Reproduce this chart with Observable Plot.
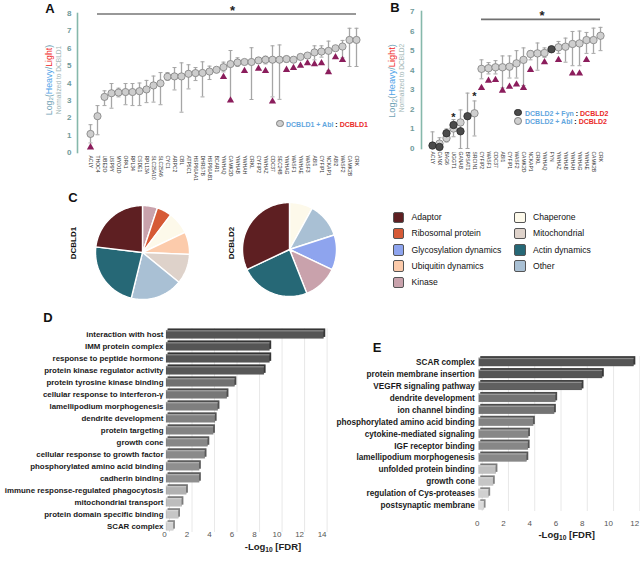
<!DOCTYPE html>
<html><head><meta charset="utf-8">
<script src="https://cdn.jsdelivr.net/npm/d3@7"></script>
<script src="https://cdn.jsdelivr.net/npm/@observablehq/plot@0.6"></script>
<style>
body{margin:0;background:#fff;font-family:"Liberation Sans",Arial,Helvetica,sans-serif;}
#root{position:relative;width:640px;height:561px;overflow:hidden;background:#fff;}
.abs{position:absolute;white-space:nowrap;line-height:1;}
sub{font-size:70%;vertical-align:-0.25em;line-height:0;}
</style></head><body><div id="root"></div>
<script>
// ---------- DATA ----------
const namesA = ["ACLY","THOC4","UBE2O","USP9Y","MYO1D","OPA1","RPL34","CSDE1","RPL13A","SLC25A10","SLC25A6","CYC1","ARPC2","CBL","ATP5C1","HSP90AA1","DHRS7B","HSP90AB1","BCAR1","YWHAQ","CAMK2D","YWHAB","YWHAH","CRKL","CYFIP2","YWHAZ","CDC37","SEC24B","YWHAG","WASF1","YWHAE","WASF3","ABI1","CYFIP1","NCKAP1","ABI2","WASF2","CAMK2B","CRK"];
const meanA = [1.07,2.09,3.2,3.41,3.45,3.48,3.48,3.53,3.63,3.86,3.98,4.36,4.38,4.38,4.53,4.57,4.58,4.66,4.76,4.91,5.09,5.18,5.21,5.21,5.3,5.34,5.34,5.34,5.38,5.34,5.5,5.58,5.76,5.81,5.85,6.0,6.1,6.48,6.48];
const loA = [0.55,1.02,2.7,2.55,3.2,2.75,2.7,2.7,2.87,2.9,2.75,4.15,3.6,2.32,3.66,4.14,3.2,4.2,null,4.64,2.99,4.95,null,3.05,null,5.1,3.2,3.06,5.2,null,null,null,5.33,5.49,4.72,5.87,5.45,4.95,4.95];
const hiA = [1.6,2.7,3.55,3.97,3.7,3.97,3.97,4.0,4.15,4.4,4.6,4.6,4.89,5.16,5.05,4.89,5.22,4.97,null,5.2,5.87,5.45,null,6.03,null,5.54,6.14,6.19,5.54,null,null,null,6.14,6.14,6.41,6.1,6.45,7.15,7.15];
const triA = [0.3,null,null,null,null,null,null,null,null,null,null,null,null,null,null,null,null,null,null,4.35,3.0,null,4.69,null,4.82,4.69,2.94,null,4.76,4.87,5.0,5.14,5.08,5.14,4.62,5.49,5.33,null,null];
const sigA = [{from:"THOC4", to:"CRK", y:7.97, star:"CAMK2D", ys:8.15}];

const namesB = ["ACLY","CANX","BAG6","UGGT1","GANAB","BPSAT1","SRCIN1","CYFIP2","WASF1","CDC37","ABI1","CYFIP1","WASF2","CAMK2D","NCKAP1","CRKL","YWHAQ","FYN","YWHAZ","YWHAB","YWHAH","YWHAG","YWHAE","CAMK2B","CRK"];
const ablB   = [null,0.25,0.53,1.02,1.33,null,1.8,4.07,4.1,4.15,4.15,4.18,4.35,4.53,4.83,4.86,4.88,null,5.17,5.2,5.34,5.37,5.54,5.54,5.76];
const ablLoB = [null,0.0,0.33,0.6,0.0,null,0.64,3.56,3.81,3.81,3.1,3.6,3.6,3.22,4.53,4.0,4.66,null,4.86,4.41,4.23,4.23,4.86,4.86,5.0];
const ablHiB = [null,0.55,1.0,1.48,1.97,null,2.43,4.53,4.39,4.49,4.73,4.73,5.0,5.14,5.0,5.39,5.14,null,5.47,5.64,5.98,6.0,5.93,6.15,6.19];
const fynB   = [0.15,0.08,0.78,1.2,0.88,1.65,null,null,null,null,null,null,null,null,null,null,null,5.07,null,null,null,null,null,null,null];
const fynLoB = [0.15,null,null,null,null,0.0,null,null,null,null,null,null,null,null,null,null,null,null,null,null,null,null,null,null,null];
const fynHiB = [0.85,null,null,null,null,2.83,null,null,null,null,null,null,null,null,null,null,null,null,null,null,null,null,null,null,null];
const triB   = [null,null,null,null,null,null,null,3.1,3.47,3.5,2.96,3.16,3.27,3.1,4.02,null,4.41,null,4.53,null,3.84,3.84,4.53,null,null];
const sigB = [{from:"CYFIP2", to:"CRK", y:6.6, star:"CRKL", ys:6.8}];
const starsB = [{name:"UGGT1", y:1.59}, {name:"SRCIN1", y:2.67}];

const catNames = ["Adaptor","Ribosomal protein","Glycosylation dynamics","Ubiquitin dynamics","Kinase","Chaperone","Mitochondrial","Actin dynamics","Other"];
const pie1Cats = ["Kinase","Ribosomal protein","Chaperone","Ubiquitin dynamics","Mitochondrial","Other","Actin dynamics","Adaptor"];
const pie1Counts = [2,2,3,3,4,7,9,9];
const pie2Cats = ["Chaperone","Other","Glycosylation dynamics","Kinase","Actin dynamics","Adaptor"];
const pie2Counts = [2,3,3,3,6,8];

const termsD = ["interaction with host","IMM protein complex","response to peptide hormone","protein kinase regulator activity","protein tyrosine kinase binding","cellular response to interferon-γ","lamellipodium morphogenesis","dendrite development","protein targeting","growth cone","cellular response to growth factor","phosphorylated amino acid binding","cadherin binding","immune response-regulated phagocytosis","mitochondrial transport","protein domain specific binding","SCAR complex"];
const fdrD = [14.0,9.2,9.2,8.7,6.1,5.4,4.6,4.35,4.2,3.7,3.45,2.95,2.95,1.8,1.4,1.1,0.65];
const termsE = ["SCAR complex","protein membrane insertion","VEGFR signaling pathway","dendrite development","ion channel binding","phosphorylated amino acid binding","cytokine-mediated signaling","IGF receptor binding","lamellipodium morphogenesis","unfolded protein binding","growth cone","regulation of Cys-proteases","postsynaptic membrane"];
const fdrE = [11.8,9.4,7.85,5.85,5.75,4.15,3.78,3.75,3.65,1.3,1.1,0.75,0.4];

// ---------- STYLE ----------
const catColors = ["#5e1f22","#d65a36","#8ea4ee","#fccbab","#c9a2ac","#fdf9ea","#ded2ca","#266876","#a9c0d4"];
const FONT = '"Liberation Sans", Arial, Helvetica, sans-serif';
const root = document.getElementById("root");
const baseStyle = {fontFamily: FONT, background: "transparent", overflow: "visible"};
const cap = {draw(ctx){ ctx.moveTo(-2,0); ctx.lineTo(2,0); }};

function put(el, left, top){ el.style.position="absolute"; el.style.left=left+"px"; el.style.top=top+"px"; root.appendChild(el); return el; }
function label(h, x, y, css={}, anchor="middle", rotate=0){
  const d=document.createElement("div"); d.className="abs"; d.innerHTML=h;
  d.style.left=x+"px"; d.style.top=y+"px";
  const tx = anchor==="start"?"0":anchor==="end"?"-100%":"-50%";
  d.style.transform=`translate(${tx},-50%)`+(rotate?` rotate(${rotate}deg)`:"");
  Object.assign(d.style, css); root.appendChild(d); return d;
}
function circ(x,y,r,fill,stroke){
  const d=document.createElement("div"); d.className="abs";
  Object.assign(d.style,{left:(x-r)+"px",top:(y-r)+"px",width:(2*r-1.6)+"px",height:(2*r-1.6)+"px",borderRadius:"50%",background:fill,border:`0.8px solid ${stroke}`});
  root.appendChild(d);
}

// ---------- PANEL A ----------
const rowsA = namesA.map((name,i)=>({name, mean:meanA[i], lo:loA[i], hi:hiA[i], tri:triA[i]}));
const errA = rowsA.filter(d=>d.lo!=null);
const plotA = Plot.plot({
  width:375, height:185, marginLeft:77, marginTop:13, marginBottom:33, marginRight:14,
  style: baseStyle,
  x:{type:"point", domain:namesA, range:[84,361], padding:0},
  y:{domain:[0,8], range:[152,13]},
  marks:[
    Plot.frame({anchor:"left", stroke:"#86b8ab", strokeWidth:1.6}),
    Plot.axisY({ticks:d3.range(0,9), tickFormat:"d", tickSize:0, tickPadding:6, fontSize:8, fontWeight:"bold", fill:"#6f9a9a", label:null}),
    Plot.axisX({tickRotate:90, tickSize:0, tickPadding:3, fontSize:5, fill:"#333", label:null}),
    Plot.ruleY(sigA, {y:"y", x1:"from", x2:"to", stroke:"#333", strokeWidth:1.2}),
    Plot.text(sigA, {x:"star", y:"ys", text:()=>"*", fontSize:13, fontWeight:"bold", dx:2, fill:"#222"}),
    Plot.ruleX(errA, {x:"name", y1:"lo", y2:"hi", stroke:"#a6a6a6", strokeWidth:1.3}),
    Plot.dot(errA, {x:"name", y:"lo", symbol:cap, fill:"none", stroke:"#a6a6a6", strokeWidth:1}),
    Plot.dot(errA, {x:"name", y:"hi", symbol:cap, fill:"none", stroke:"#a6a6a6", strokeWidth:1}),
    Plot.dot(rowsA.filter(d=>d.tri!=null), {x:"name", y:"tri", symbol:"triangle", r:2.7, fill:"#8b1d5c"}),
    Plot.dot(rowsA, {x:"name", y:"mean", r:3.6, fill:"#cdcdcd", stroke:"#7f7f7f", strokeWidth:0.8})
  ]
});
put(plotA, 0, 0);

// ---------- PANEL B ----------
const rowsB = namesB.map((name,i)=>({name, abl:ablB[i], alo:ablLoB[i], ahi:ablHiB[i], fyn:fynB[i], flo:fynLoB[i], fhi:fynHiB[i], tri:triB[i]}));
const errB = [
  ...rowsB.filter(d=>d.alo!=null).map(d=>({name:d.name, lo:d.alo, hi:d.ahi})),
  ...rowsB.filter(d=>d.flo!=null).map(d=>({name:d.name, lo:d.flo, hi:d.fhi}))
];
const plotB = Plot.plot({
  width:260, height:185, marginLeft:41, marginTop:11, marginBottom:37, marginRight:10,
  style: baseStyle,
  x:{type:"point", domain:namesB, range:[48,224], padding:0},
  y:{domain:[0,7], range:[148,11]},
  marks:[
    Plot.frame({anchor:"left", stroke:"#86b8ab", strokeWidth:1.6}),
    Plot.axisY({ticks:d3.range(0,8), tickFormat:"d", tickSize:0, tickPadding:7, fontSize:8, fontWeight:"bold", fill:"#6f9a9a", label:null}),
    Plot.axisX({tickRotate:90, tickSize:0, tickPadding:3, fontSize:5, fill:"#333", label:null}),
    Plot.ruleY(sigB, {y:"y", x1:"from", x2:"to", stroke:"#707070", strokeWidth:1.8}),
    Plot.text(sigB, {x:"star", y:"ys", text:()=>"*", fontSize:13, fontWeight:"bold", dx:4.5, fill:"#222"}),
    Plot.text(starsB, {x:"name", y:"y", text:()=>"*", fontSize:11, fontWeight:"bold", fill:"#222"}),
    Plot.ruleX(errB, {x:"name", y1:"lo", y2:"hi", stroke:"#a6a6a6", strokeWidth:1.3}),
    Plot.dot(errB, {x:"name", y:"lo", symbol:cap, fill:"none", stroke:"#a6a6a6", strokeWidth:1}),
    Plot.dot(errB, {x:"name", y:"hi", symbol:cap, fill:"none", stroke:"#a6a6a6", strokeWidth:1}),
    Plot.dot(rowsB.filter(d=>d.tri!=null), {x:"name", y:"tri", symbol:"triangle", r:2.7, fill:"#8b1d5c"}),
    Plot.dot(rowsB.filter(d=>d.abl!=null), {x:"name", y:"abl", r:3.7, fill:"#cfcfcf", stroke:"#808080", strokeWidth:0.8}),
    Plot.dot(rowsB.filter(d=>d.fyn!=null), {x:"name", y:"fyn", r:3.7, fill:"#4b4b4b", stroke:"#2a2a2a", strokeWidth:0.8})
  ]
});
put(plotB, 380, 0);

// ---------- PANEL C (pies) ----------
function pieFeatures(counts, cats){
  return d3.pie().sort(null)(counts).map((a,i)=>{
    const pts=[[0,0]];
    const n=Math.max(2, Math.ceil((a.endAngle-a.startAngle)/0.03));
    for(let k=0;k<=n;k++){ const t=a.startAngle+(a.endAngle-a.startAngle)*k/n; pts.push([Math.sin(t),Math.cos(t)]); }
    pts.push([0,0]);
    return {type:"Feature", properties:{cat:cats[i]}, geometry:{type:"Polygon", coordinates:[pts]}};
  });
}
function piePlot(counts, cats){
  return Plot.plot({
    width:96, height:96, margin:0, style: baseStyle,
    projection:{type:"reflect-y", domain:{type:"MultiPoint", coordinates:[[-1,-1],[1,1]]}, inset:1},
    color:{domain:catNames, range:catColors},
    marks:[Plot.geo(pieFeatures(counts,cats), {fill:d=>d.properties.cat, stroke:"white", strokeWidth:1.4})]
  });
}
put(piePlot(pie1Counts, pie1Cats), 93.5, 204);
put(piePlot(pie2Counts, pie2Cats), 241, 201);

// ---------- PANELS D & E ----------
function goPlot(terms, vals, xmax, o){
  const rows = terms.map((t,i)=>({t, v:vals[i]}));
  const ticks = d3.range(0, xmax+1, 2);
  return Plot.plot({
    width:o.width, height:o.height, marginLeft:o.ml, marginRight:o.mr, marginTop:o.mt, marginBottom:o.mb,
    style: baseStyle,
    x:{domain:[0,xmax]},
    y:{type:"band", domain:terms, paddingInner:0.3, paddingOuter:0.15, round:false},
    color:{type:"linear", domain:[0.4,3,9], range:["#dadada","#8e8e8e","#555555"], clamp:true},
    marks:[
      Plot.ruleX(ticks, {stroke:"#e2e2e2", strokeWidth:0.8, dx:3}),
      Plot.axisX({ticks, tickFormat:"d", tickSize:0, tickPadding:o.tp, fontSize:8, fill:"#555", dx:-2, label:null}),
      Plot.axisY({tickSize:0, tickPadding:o.yp, fontSize:o.fs, fontWeight:"bold", fill:"#1a1a1a", label:null}),
      Plot.barX(rows, {x:"v", y:"t", fill:"v", dx:1.6, dy:-1.6}),
      Plot.barX(rows, {x:"v", y:"t", fill:"#000", fillOpacity:0.35, dx:1.6, dy:-1.6}),
      Plot.barX(rows, {x:"v", y:"t", fill:"v", stroke:"#000", strokeOpacity:0.18, strokeWidth:0.5}),
      Plot.barX(rows, {x:"v", y:"t", fill:"#fff", fillOpacity:0.3, insetBottom:7})
    ]
  });
}
put(goPlot(termsD, fdrD, 14, {width:330, height:240, ml:166, mr:6.4, mt:8.3, mb:28, tp:-1, yp:3, fs:7.9}), 0, 320);
put(goPlot(termsE, fdrE, 12, {width:310, height:240, ml:148.7, mr:3.7, mt:36, mb:49, tp:8.9, yp:4.4, fs:8.2}), 330, 320);

// ---------- TEXT & LEGENDS ----------
const letter = {fontSize:"13px", fontWeight:"bold", color:"#111"};
label("A", 50, 8, letter);
label("B", 395, 7, letter);
label("C", 73, 197, letter);
label("D", 48, 317, letter);
label("E", 377, 347, letter);

const ytitle = `<span style="color:#6fa2b5">Log<sub>2</sub>(</span><span style="color:#4fa3e8">Heavy</span><span style="color:#6fa2b5">/</span><span style="color:#f02626">Light</span><span style="color:#6fa2b5">)</span>`;
label(ytitle, 49, 80, {fontSize:"8.8px"}, "middle", -90);
label("Normalized to DCBLD1", 59, 80, {fontSize:"6.6px", color:"#a3b7b7"}, "middle", -90);
label(ytitle, 393, 81, {fontSize:"9.2px"}, "middle", -90);
label("Normalized to DCBLD2", 402, 78, {fontSize:"6.6px", color:"#a3b7b7"}, "middle", -90);

const blue = "#62a6de", red = "#ea2a2a";
circ(280, 123.3, 3.7, "#cdcdcd", "#7f7f7f");
label(`<span style="color:${blue}">DCBLD1 + Abl</span> : <span style="color:${red}">DCBLD1</span>`, 286, 123.5, {fontSize:"7px", fontWeight:"bold"}, "start");
circ(518, 112.3, 3.7, "#4b4b4b", "#2a2a2a");
label(`<span style="color:${blue}">DCBLD2 + Fyn</span> : <span style="color:${red}">DCBLD2</span>`, 525, 112.5, {fontSize:"7px", fontWeight:"bold"}, "start");
circ(518, 121, 3.7, "#cfcfcf", "#808080");
label(`<span style="color:${blue}">DCBLD2 + Abl</span> : <span style="color:${red}">DCBLD2</span>`, 525, 121.2, {fontSize:"7px", fontWeight:"bold"}, "start");

label("DCBLD1", 74, 243, {fontSize:"8px", fontWeight:"bold", color:"#111"}, "middle", -90);
label("DCBLD2", 232, 243, {fontSize:"8px", fontWeight:"bold", color:"#111"}, "middle", -90);

const legCols = [
  {x:392.5, items:["Adaptor","Ribosomal protein","Glycosylation dynamics","Ubiquitin dynamics","Kinase"]},
  {x:514, items:["Chaperone","Mitochondrial","Actin dynamics","Other"]}
];
const legRows = [217, 233.3, 249.5, 265.7, 282];
legCols.forEach(col => col.items.forEach((name, j) => {
  const sw = document.createElement("div"); sw.className="abs";
  Object.assign(sw.style, {left:col.x+"px", top:(legRows[j]-5.5)+"px", width:"9.5px", height:"9.5px", borderRadius:"2px",
    background: catColors[catNames.indexOf(name)], border:"0.8px solid #555"});
  root.appendChild(sw);
  label(name, col.x+19, legRows[j], {fontSize:"8.6px", color:"#111"}, "start");
}));

const xt = `-Log<sub>10</sub> [FDR]`;
label(xt, 273, 547, {fontSize:"9.5px", fontWeight:"bold", color:"#222"});
label(xt, 566.7, 535, {fontSize:"9.5px", fontWeight:"bold", color:"#222"});
</script></body></html>
